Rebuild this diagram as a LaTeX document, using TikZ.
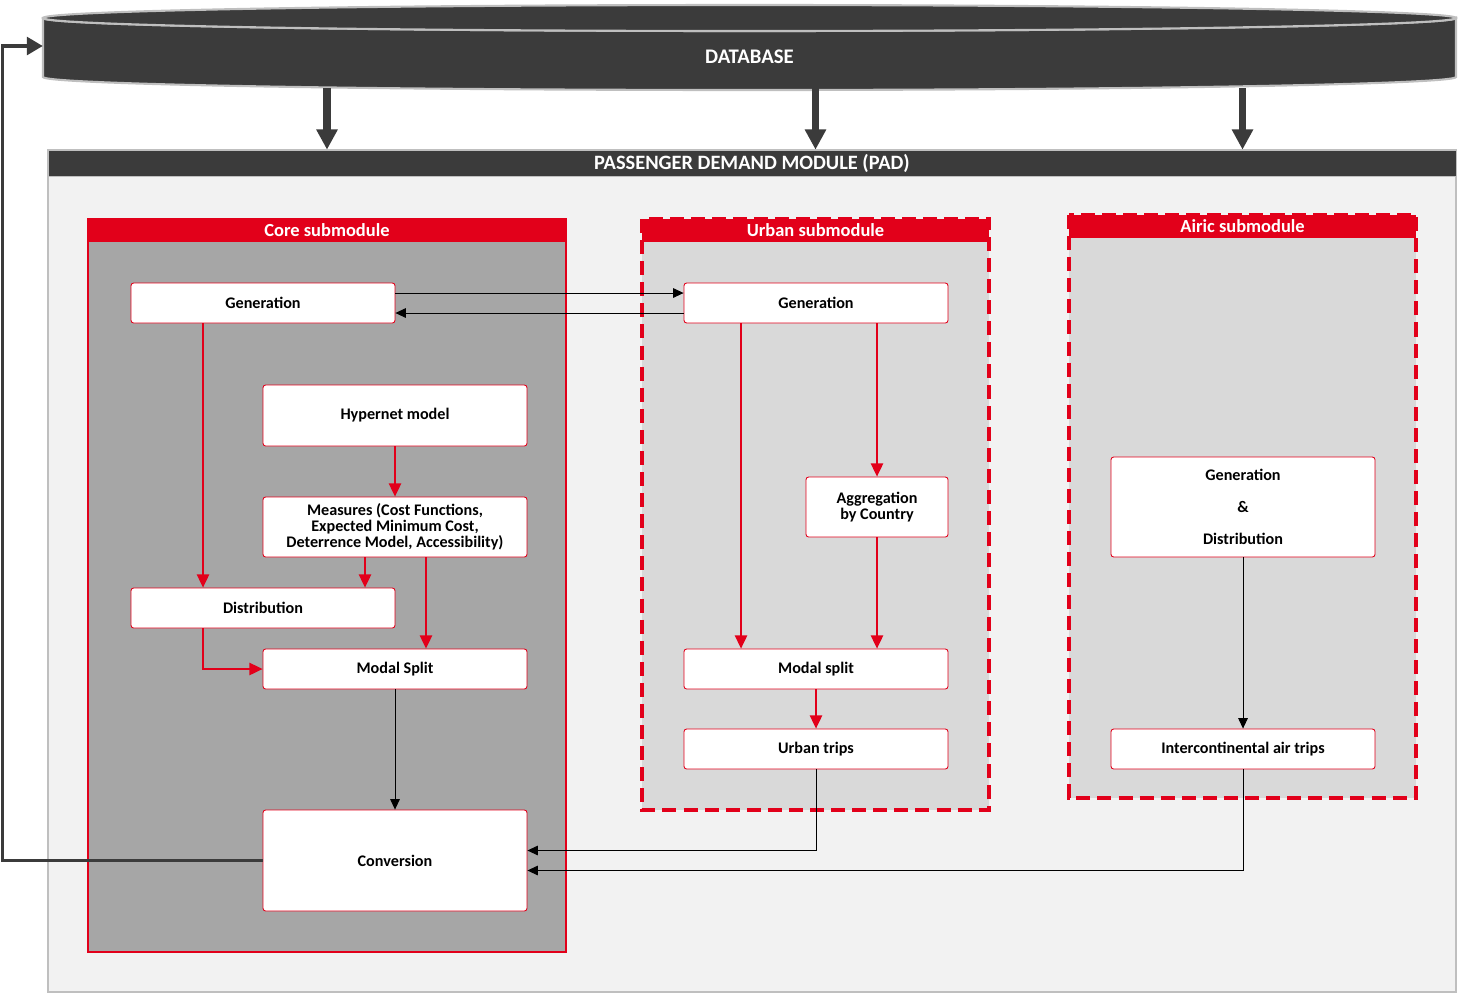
\documentclass[tikz,border=0pt]{standalone}
\usepackage{fontspec}
\setmainfont{Carlito}
\usetikzlibrary{arrows.meta}

\definecolor{padred}{HTML}{E2001A}
\definecolor{dbgray}{HTML}{3B3B3B}
\definecolor{edgegray}{HTML}{BFBFBF}
\definecolor{corefill}{HTML}{A6A6A6}
\definecolor{subfill}{HTML}{D9D9D9}
\definecolor{padfill}{HTML}{F2F2F2}

\tikzset{
  box/.style={draw=padred, fill=white, rounded corners=1.5pt, line width=0.5pt,
    minimum width=5.28cm, minimum height=0.8cm, align=center, inner sep=0pt,
    font=\bfseries\fontsize{9.2}{9.2}\selectfont},
  subhead/.style={fill=padred, text=white, inner sep=0pt, minimum width=6.94cm,
    minimum height=0.45cm, font=\bfseries\fontsize{10.5}{12}\selectfont},
  redarrow/.style={draw=padred, line width=0.9pt, -{Triangle[length=7.5pt,width=7pt]}},
  blkarrow/.style={draw=black, line width=0.5pt, -{Triangle[length=6pt,width=5.5pt]}},
  dbarrow/.style={draw=dbgray, line width=4pt, -{Triangle[length=11.5pt,width=11.5pt]}},
  fbarrow/.style={draw=dbgray, line width=2pt, -{Triangle[length=9pt,width=10pt]}},
}

\begin{document}
\begin{tikzpicture}[x=0.02cm, y=-0.02cm]
\useasboundingbox (0,0) rectangle (1459,994);

% database
\draw[fill=dbgray, draw=edgegray, line width=1.2pt] (43,18) -- (43,77)
  arc[start angle=180, end angle=0, x radius=706.5, y radius=13] -- (1456,18)
  arc[start angle=0, end angle=180, x radius=706.5, y radius=13] -- cycle;
\draw[fill=dbgray, draw=edgegray, line width=1.2pt] (749.5,18) ellipse [x radius=706.5, y radius=13];
\node[text=white, minimum width=28.26cm, minimum height=1.24cm, inner sep=0pt,
  font=\bfseries\fontsize{11.8}{13}\selectfont] (db) at (749.5,57) {DATABASE};

% passenger demand module
\draw[fill=padfill, draw=edgegray, line width=1pt] (48,150) rectangle (1456,992);
\node[fill=dbgray, draw=edgegray, text=white, minimum width=28.16cm, minimum height=0.52cm,
  inner sep=0pt, font=\bfseries\fontsize{11.6}{13}\selectfont] (padhead) at (752,163)
  {PASSENGER DEMAND MODULE (PAD)};

% submodules
\draw[fill=corefill, draw=padred, line width=1.6pt] (88,219) rectangle (566,952);
\node[subhead, minimum width=9.56cm] (corehead) at (327,230.5) {Core submodule};
\draw[fill=subfill, draw=padred, line width=1.9pt, dash pattern=on 8pt off 4pt] (642,219) rectangle (989,810);
\node[subhead] (urbhead) at (815.5,230.5) {Urban submodule};
\draw[fill=subfill, draw=padred, line width=1.9pt, dash pattern=on 8pt off 4pt] (1069,215) rectangle (1416,798);
\node[subhead] (airhead) at (1242.5,226.5) {Airic submodule};

\draw[dbarrow] (db.south -| corehead) -- (padhead.north -| corehead);
\draw[dbarrow] (db.south -| urbhead) -- (padhead.north -| urbhead);
\draw[dbarrow] (db.south -| airhead) -- (padhead.north -| airhead);

% core
\node[box] (cgen) at (263,303) {Generation};
\node[box, minimum height=1.22cm] (hyper) at (395,415.5) {Hypernet model};
\node[box, minimum height=1.2cm] (meas) at (395,527)
  {Measures (Cost Functions,\\Expected Minimum Cost,\\Deterrence Model, Accessibility)};
\node[box] (dist) at (263,608) {Distribution};
\node[box] (cmodal) at (395,669) {Modal Split};
\node[box, minimum height=2.02cm] (conv) at (395,860.5) {Conversion};

% urban
\node[box] (ugen) at (816,303) {Generation};
\node[box, minimum width=2.84cm, minimum height=1.2cm] (agg) at (877,507) {Aggregation\\by Country};
\node[box] (umodal) at (816,669) {Modal split};
\node[box] (utrips) at (816,749) {Urban trips};

% airic
\node[box, minimum height=2cm] (airgd) at (1243,507) {Generation\\[9pt]\&\\[9pt]Distribution};
\node[box] (intc) at (1243,749) {Intercontinental air trips};

% connectors
\draw[blkarrow] ([yshift=0.2cm]cgen.east) -- ([yshift=0.2cm]ugen.west);
\draw[blkarrow] ([yshift=-0.2cm]ugen.west) -- ([yshift=-0.2cm]cgen.east);
\draw[redarrow] ([xshift=-1.2cm]cgen.south) -- ([xshift=-1.2cm]dist.north);
\draw[redarrow] (hyper) -- (meas);
\coordinate (m1) at ([xshift=-0.6cm]meas.south);
\coordinate (m2) at ([xshift=0.62cm]meas.south);
\draw[redarrow] (m1) -- (m1 |- dist.north);
\draw[redarrow] (m2) -- (m2 |- cmodal.north);
\draw[redarrow] ([xshift=-1.2cm]dist.south) |- (cmodal.west);
\draw[blkarrow] (cmodal) -- (conv);

\draw[redarrow] ([xshift=-1.5cm]ugen.south) -- ([xshift=-1.5cm]umodal.north);
\draw[redarrow] (ugen.south -| agg) -- (agg.north);
\draw[redarrow] (agg.south) -- (agg.south |- umodal.north);
\draw[redarrow] (umodal) -- (utrips);
\draw[blkarrow] (airgd) -- (intc);

\draw[blkarrow] (utrips.south) |- ([yshift=0.2cm]conv.east);
\draw[blkarrow] (intc.south) |- ([yshift=-0.2cm]conv.east);
\draw[fbarrow] (conv.west) -- ++(-260,0) |- ([yshift=0.22cm]db.west);
\end{tikzpicture}
\end{document}
